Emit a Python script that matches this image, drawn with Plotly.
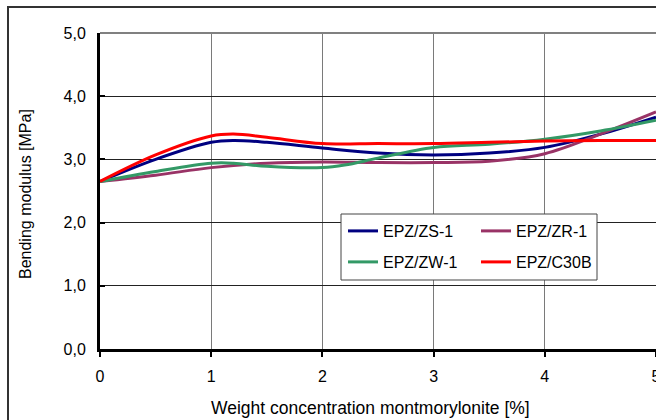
import plotly.graph_objects as go

# Data
zs1_x = [0, 0.5, 1.0, 1.2, 1.5, 2.0, 2.5, 3.0, 3.5, 4.0, 4.5, 5.0]
zs1_y = [2.65, 3.00, 3.27, 3.30, 3.27, 3.18, 3.10, 3.07, 3.10, 3.19, 3.40, 3.67]

zr1_x = [0, 0.5, 1.0, 1.5, 2.0, 2.5, 3.0, 3.5, 4.0, 4.5, 5.0]
zr1_y = [2.65, 2.75, 2.87, 2.94, 2.96, 2.95, 2.95, 2.97, 3.09, 3.40, 3.75]

zw1_x = [0, 0.5, 1.0, 1.2, 1.5, 2.0, 2.2, 2.5, 3.0, 3.5, 4.0, 4.5, 5.0]
zw1_y = [2.65, 2.81, 2.94, 2.94, 2.89, 2.87, 2.91, 3.02, 3.19, 3.24, 3.32, 3.45, 3.62]

c30b_x = [0, 0.5, 1.0, 1.2, 1.5, 2.0, 2.5, 3.0, 3.5, 4.0, 4.5, 5.0]
c30b_y = [2.65, 3.07, 3.37, 3.40, 3.35, 3.25, 3.25, 3.25, 3.27, 3.29, 3.30, 3.30]

series_names = ["EPZ/ZS-1", "EPZ/ZR-1", "EPZ/ZW-1", "EPZ/C30B"]
series_colors = ["#000080", "#993366", "#339966", "#FF0000"]

x_ticks = [0, 1, 2, 3, 4, 5]
y_ticks = [0, 1, 2, 3, 4, 5]

FONT = "Liberation Sans, Arial, sans-serif"

fig = go.Figure()
data = [(zs1_x, zs1_y), (zr1_x, zr1_y), (zw1_x, zw1_y), (c30b_x, c30b_y)]
legends = ["legend", "legend", "legend2", "legend2"]
for (xs, ys), name, col, lg in zip(data, series_names, series_colors, legends):
    fig.add_trace(go.Scatter(
        x=xs, y=ys, name=name, mode="lines",
        line=dict(color=col, width=3, shape="spline", smoothing=1.0),
        legend=lg,
    ))

# plot area in px: x 100..656, y 33..349
L, R, T, B = 100, 656, 33, 349
W, H = R - L, B - T
def px(xp):
    return (xp - L) / W
def py(yp):
    return (B - yp) / H

leg_common = dict(orientation="h", x=px(343), xanchor="left", yanchor="middle",
                  bgcolor="rgba(0,0,0,0)", borderwidth=0, entrywidth=88,
                  entrywidthmode="pixels", font=dict(family=FONT, size=16),
                  traceorder="normal")

fig.update_layout(
    width=656, height=420,
    margin=dict(l=L, r=656 - R, t=T, b=420 - B),
    paper_bgcolor="white", plot_bgcolor="white",
    separators=", ",
    font=dict(family=FONT, size=16, color="black"),
    showlegend=True,
    legend=dict(y=py(231), **leg_common),
    legend2=dict(y=py(262), **leg_common),
    xaxis=dict(range=[0, 5], tickvals=x_ticks, showgrid=True, gridcolor="#7a7a7a", gridwidth=1,
               showline=True, linecolor="black", linewidth=3, ticks="outside", ticklen=5,
               tickwidth=2, tickcolor="black", zeroline=False, automargin=False,
               tickfont=dict(size=16), ticklabelstandoff=6, ticklabeloverflow="allow"),
    yaxis=dict(range=[0, 5], tickvals=y_ticks, tickformat=".1f", showgrid=True,
               gridcolor="#222222", gridwidth=1, showline=True, linecolor="black", linewidth=3,
               ticks="inside", ticklen=5, tickwidth=2, tickcolor="black", zeroline=False,
               automargin=False, tickfont=dict(size=16), ticklabelstandoff=8),
    shapes=[
        # outer chart frame (cropped at right and bottom)
        dict(type="rect", xref="paper", yref="paper", x0=px(8), x1=px(700), y0=py(460), y1=py(7),
             line=dict(color="#333333", width=2), fillcolor="rgba(0,0,0,0)", layer="below"),
        # top border of plot area
        dict(type="line", xref="paper", yref="paper", x0=0, x1=1, y0=1, y1=1,
             line=dict(color="#808080", width=2)),
        # legend box
        dict(type="rect", xref="paper", yref="paper", x0=px(341), x1=px(597), y0=py(280), y1=py(214),
             line=dict(color="#444444", width=1), fillcolor="white", layer="above"),
    ],
    annotations=[
        dict(text="Weight concentration montmorylonite [%]", xref="paper", yref="paper",
             x=px(370), y=py(408), xanchor="center", yanchor="middle", showarrow=False,
             font=dict(family=FONT, size=17.5)),
        dict(text="Bending modulus [MPa]", xref="paper", yref="paper",
             x=px(25), y=py(194), xanchor="center", yanchor="middle", showarrow=False,
             textangle=-90, font=dict(family=FONT, size=16)),
    ],
)

fig.write_html("out.html")
